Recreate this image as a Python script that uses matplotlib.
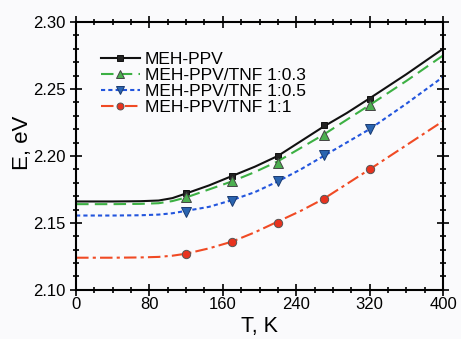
import matplotlib
matplotlib.use("Agg")
import matplotlib.pyplot as plt
from matplotlib.ticker import MultipleLocator

plt.rcParams['font.family'] = ['Liberation Sans', 'DejaVu Sans']

# measured points
T_pts = [120, 170, 220, 270, 320]
E_pure = [2.172, 2.185, 2.200, 2.223, 2.2425]
E_03 = [2.169, 2.181, 2.195, 2.216, 2.238]
E_05 = [2.158, 2.166, 2.181, 2.2005, 2.220]
E_11 = [2.127, 2.136, 2.150, 2.168, 2.190]

# fitted curves
T_fit = [0, 40, 70, 90, 105, 120, 145, 170, 195, 220, 245, 270, 295, 320, 360, 400]
fit_pure = [2.166, 2.166, 2.1662, 2.1667, 2.1685, 2.172, 2.178, 2.185, 2.192, 2.200, 2.211, 2.222, 2.232, 2.243, 2.261, 2.280]
fit_03 = [2.164, 2.164, 2.1642, 2.1647, 2.1663, 2.169, 2.175, 2.181, 2.188, 2.196, 2.206, 2.216, 2.227, 2.238, 2.256, 2.275]
fit_05 = [2.1555, 2.1555, 2.1557, 2.1562, 2.1572, 2.159, 2.162, 2.167, 2.173, 2.181, 2.190, 2.200, 2.210, 2.220, 2.239, 2.259]
fit_11 = [2.124, 2.124, 2.1242, 2.1246, 2.1255, 2.127, 2.131, 2.136, 2.143, 2.151, 2.159, 2.168, 2.179, 2.190, 2.208, 2.226]

labels = ["MEH-PPV", "MEH-PPV/TNF 1:0.3", "MEH-PPV/TNF 1:0.5", "MEH-PPV/TNF 1:1"]

fig = plt.figure(figsize=(4.61, 3.39), dpi=100)
fig.patch.set_facecolor("#fafafc")
ax = fig.add_axes([0.165, 0.145, 0.796, 0.79])
ax.set_facecolor("#fafafc")

series = [
    (fit_pure, E_pure, "#111111", "-", "s", "#222222", "#111111", 5),
    (fit_03, E_03, "#3cb043", (0, (6, 3)), "^", "#4caf50", "#444444", 7),
    (fit_05, E_05, "#2255dd", (0, (2, 1.5)), "v", "#2a64b0", "#1a3a70", 7),
    (fit_11, E_11, "#f04a24", (0, (6, 2, 1.5, 2)), "o", "#e8321e", "#555555", 6),
]
for (fit, pts, col, ls, mk, fc, ec, ms), lab in zip(series, labels):
    ax.plot(T_fit, fit, color=col, ls=ls, lw=1.5)
    ax.plot(T_pts, pts, ls="none", marker=mk, ms=ms, mfc=fc, mec=ec, mew=0.7)
    ax.plot([], [], color=col, ls=ls, lw=1.5, marker=mk, ms=ms - 1, mfc=fc, mec=ec, mew=0.7, label=lab)

ax.set_xlim(0, 400)
ax.set_ylim(2.10, 2.30)
ax.xaxis.set_major_locator(MultipleLocator(80))
ax.xaxis.set_minor_locator(MultipleLocator(20))
ax.yaxis.set_major_locator(MultipleLocator(0.05))
ax.yaxis.set_minor_locator(MultipleLocator(0.01))
ax.tick_params(which="both", direction="inout", top=True, right=True, width=1.2, labelsize=12)
ax.tick_params(which="major", length=8)
ax.tick_params(which="minor", length=5)
ax.tick_params(axis="x", pad=1)
for s in ax.spines.values():
    s.set_linewidth(1.5)
ax.set_xlabel("T, K", fontsize=15.5, labelpad=3)
ax.set_ylabel("E, eV", fontsize=16)
ax.yaxis.set_label_coords(-0.118, 0.55)

ax.legend(loc="upper left", bbox_to_anchor=(0.05, 0.915), frameon=False, fontsize=12.5,
          handlelength=2.2, handletextpad=0.3, labelspacing=0.05, borderaxespad=0)

fig.savefig("out.png", dpi=100, facecolor=fig.get_facecolor())
